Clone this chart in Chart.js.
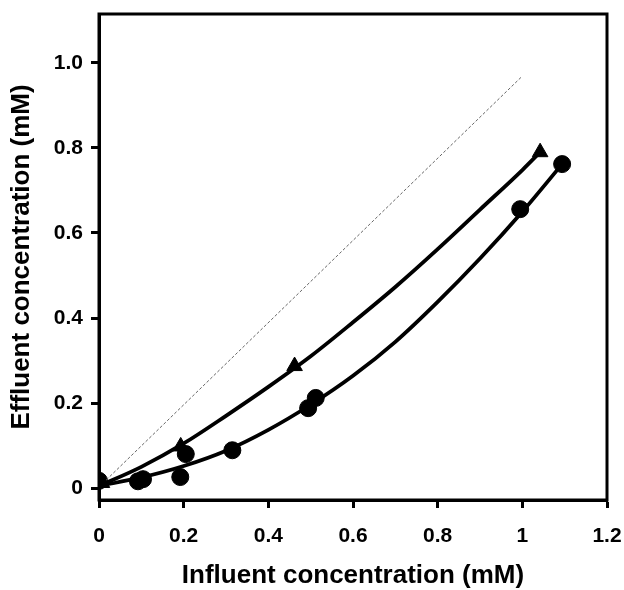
<!DOCTYPE html>
<html>
<head>
<meta charset="utf-8">
<script src="https://cdn.jsdelivr.net/npm/chart.js@4/dist/chart.umd.min.js"></script>
<style>
  html, body { margin: 0; padding: 0; background: #fff; }
  #wrap { width: 624px; height: 590px; }
</style>
</head>
<body>
<div id="wrap"><canvas id="effluentChart" width="624" height="590"></canvas></div>
<script>
// measured points (circles and triangles)
const circleX = [0, 0.092, 0.104, 0.192, 0.205, 0.315, 0.494, 0.512, 0.995, 1.094];
const circleY = [0.017, 0.016, 0.021, 0.026, 0.08, 0.089, 0.188, 0.212, 0.656, 0.762];
const triangleX = [0.007, 0.193, 0.462, 1.042];
const triangleY = [0.012, 0.098, 0.287, 0.79];

// fitted curves
const circleFitX = [0, 0.1, 0.2, 0.3, 0.4, 0.5, 0.6, 0.7, 0.8, 0.9, 1.0, 1.094];
const circleFitY = [0.005, 0.025, 0.052, 0.088, 0.137, 0.196, 0.264, 0.344, 0.438, 0.54, 0.65, 0.762];
const triangleFitX = [0, 0.1, 0.2, 0.3, 0.4, 0.5, 0.6, 0.7, 0.8, 0.9, 1.0, 1.042];
const triangleFitY = [0.005, 0.05, 0.105, 0.17, 0.238, 0.31, 0.39, 0.473, 0.562, 0.655, 0.748, 0.79];

// 1:1 reference line
const refX = [0.017, 1.0];
const refY = [0.019, 0.969];

const xTicks = [0, 0.2, 0.4, 0.6, 0.8, 1, 1.2];
const yTicks = [0, 0.2, 0.4, 0.6, 0.8, 1.0];

function toPoints(xs, ys) {
    return xs.map((x, i) => ({ x: x, y: ys[i] }));
}

// draws the box round the plot
const frameBox = {
    id: "frameBox",
    afterDraw(chart) {
        const a = chart.chartArea;
        const ctx = chart.ctx;
        ctx.save();
        ctx.strokeStyle = "#000";
        ctx.lineWidth = 3;
        ctx.strokeRect(a.left, a.top, a.right - a.left, a.bottom - a.top);
        ctx.restore();
    },
};

const tickFont = { family: "'Liberation Sans', Arial, sans-serif", size: 21, weight: "bold" };
const titleFont = { family: "'Liberation Sans', Arial, sans-serif", size: 26, weight: "bold", lineHeight: 1.1 };

const config = {
    type: "scatter",
    data: {
        datasets: [
            {
                data: toPoints(refX, refY),
                showLine: true,
                borderColor: "#666",
                borderWidth: 1,
                borderDash: [3, 2],
                pointRadius: 0,
            },
            {
                data: toPoints(triangleFitX, triangleFitY),
                showLine: true,
                borderColor: "#000",
                borderWidth: 3.8,
                cubicInterpolationMode: "monotone",
                pointRadius: 0,
            },
            {
                data: toPoints(circleFitX, circleFitY),
                showLine: true,
                borderColor: "#000",
                borderWidth: 3.8,
                cubicInterpolationMode: "monotone",
                pointRadius: 0,
            },
            {
                data: toPoints(triangleX, triangleY),
                pointStyle: "triangle",
                pointRadius: 9,
                backgroundColor: "#000",
                borderColor: "#000",
            },
            {
                data: toPoints(circleX, circleY),
                pointStyle: "circle",
                pointRadius: 8.5,
                backgroundColor: "#000",
                borderColor: "#000",
            },
        ],
    },
    options: {
        responsive: false,
        animation: false,
        layout: { padding: { left: 0, right: 17, top: 14, bottom: 0 } },
        plugins: {
            legend: { display: false },
            tooltip: { enabled: false },
        },
        scales: {
            x: {
                type: "linear",
                min: 0,
                max: 1.2,
                afterFit(scale) {
                    scale.height = 90;
                    scale.paddingLeft = 0;
                    scale.paddingRight = 0;
                },
                afterBuildTicks(scale) { scale.ticks = xTicks.map(v => ({ value: v })); },
                border: { display: true, color: "#000", width: 3 },
                grid: { drawOnChartArea: false, drawTicks: true, tickLength: 8, tickWidth: 3, tickColor: "#000" },
                ticks: {
                    color: "#000",
                    font: tickFont,
                    padding: 16,
                    maxRotation: 0,
                    callback: v => String(v),
                },
                title: {
                    display: true,
                    text: "Influent concentration (mM)",
                    color: "#000",
                    font: titleFont,
                    padding: { top: 0, bottom: 0 },
                },
            },
            y: {
                type: "linear",
                min: -0.028,
                max: 1.115,
                afterFit(scale) {
                    scale.width = 99;
                    scale.paddingTop = 0;
                    scale.paddingBottom = 0;
                },
                afterBuildTicks(scale) { scale.ticks = yTicks.map(v => ({ value: v })); },
                border: { display: true, color: "#000", width: 3 },
                grid: { drawOnChartArea: false, drawTicks: true, tickLength: 8, tickWidth: 3, tickColor: "#000" },
                ticks: {
                    color: "#000",
                    font: tickFont,
                    padding: 8,
                    callback: v => (v === 0 ? "0" : v.toFixed(1)),
                },
                title: {
                    display: true,
                    text: "Effluent concentration (mM)",
                    color: "#000",
                    font: titleFont,
                    padding: { top: 8, bottom: 0 },
                },
            },
        },
    },
    plugins: [frameBox],
};

const ctx = document.getElementById("effluentChart");
window.effluentChart = new Chart(ctx, config);
</script>
</body>
</html>
